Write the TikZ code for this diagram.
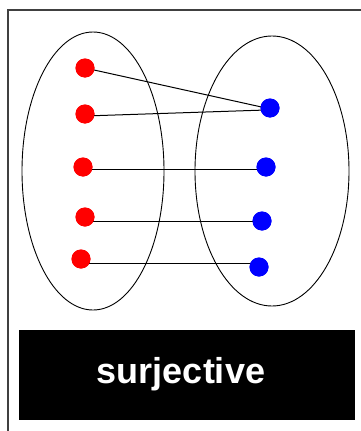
\documentclass[tikz,border=0pt]{standalone}
\usepackage{fontspec}
\setmainfont{Liberation Sans}
\begin{document}
\begin{tikzpicture}[x=1pt,y=-1pt,
  reddot/.style={circle,fill=red,inner sep=0pt,minimum size=19pt},
  bluedot/.style={circle,fill=blue,inner sep=0pt,minimum size=19pt},
  setline/.style={draw=black,line width=0.9pt},
  link/.style={draw=black,line width=1pt}]
\useasboundingbox (0,0) rectangle (361,431);
\fill[white] (0,0) rectangle (361,431);
% frame
\draw[line width=2pt,draw=black!75] (8,431) -- (8,10) -- (361,10);
% sets
\draw[setline] (93,171) ellipse [x radius=71, y radius=139];
\draw[setline] (272,171) ellipse [x radius=77, y radius=135];
% dots
\node[reddot] (r1) at (85,68) {};
\node[reddot] (r2) at (85,114) {};
\node[reddot] (r3) at (83,167) {};
\node[reddot] (r4) at (85,217) {};
\node[reddot] (r5) at (81,259) {};
\node[bluedot] (b1) at (270,108) {};
\node[bluedot] (b2) at (266,167) {};
\node[bluedot] (b3) at (262,221) {};
\node[bluedot] (b4) at (259,267) {};
% mapping
\draw[link] (r1.center) -- ([xshift=-4pt]b1.center);
\draw[link] ([yshift=-2pt]r2.center) -- ([xshift=-4pt,yshift=-2pt]b1.center);
\draw[link] ([yshift=-2pt]r3.center) -- ([yshift=-2pt]b2.center);
\draw[link] (r4.center |- b3.center) -- (b3.center);
\draw[link] ([yshift=-4pt]r5.center) -- ([yshift=4pt]b4.center);
\foreach \n in {r1,r2,r3,r4,r5}{\node[reddot] at (\n) {};}
\foreach \n in {b1,b2,b3,b4}{\node[bluedot] at (\n) {};}
% label
\fill[black] (19,330) rectangle (355,420);
\node[text=white,font=\bfseries\fontsize{36}{40}\selectfont] (lbl) at (181,374) {surjective};
\end{tikzpicture}
\end{document}
